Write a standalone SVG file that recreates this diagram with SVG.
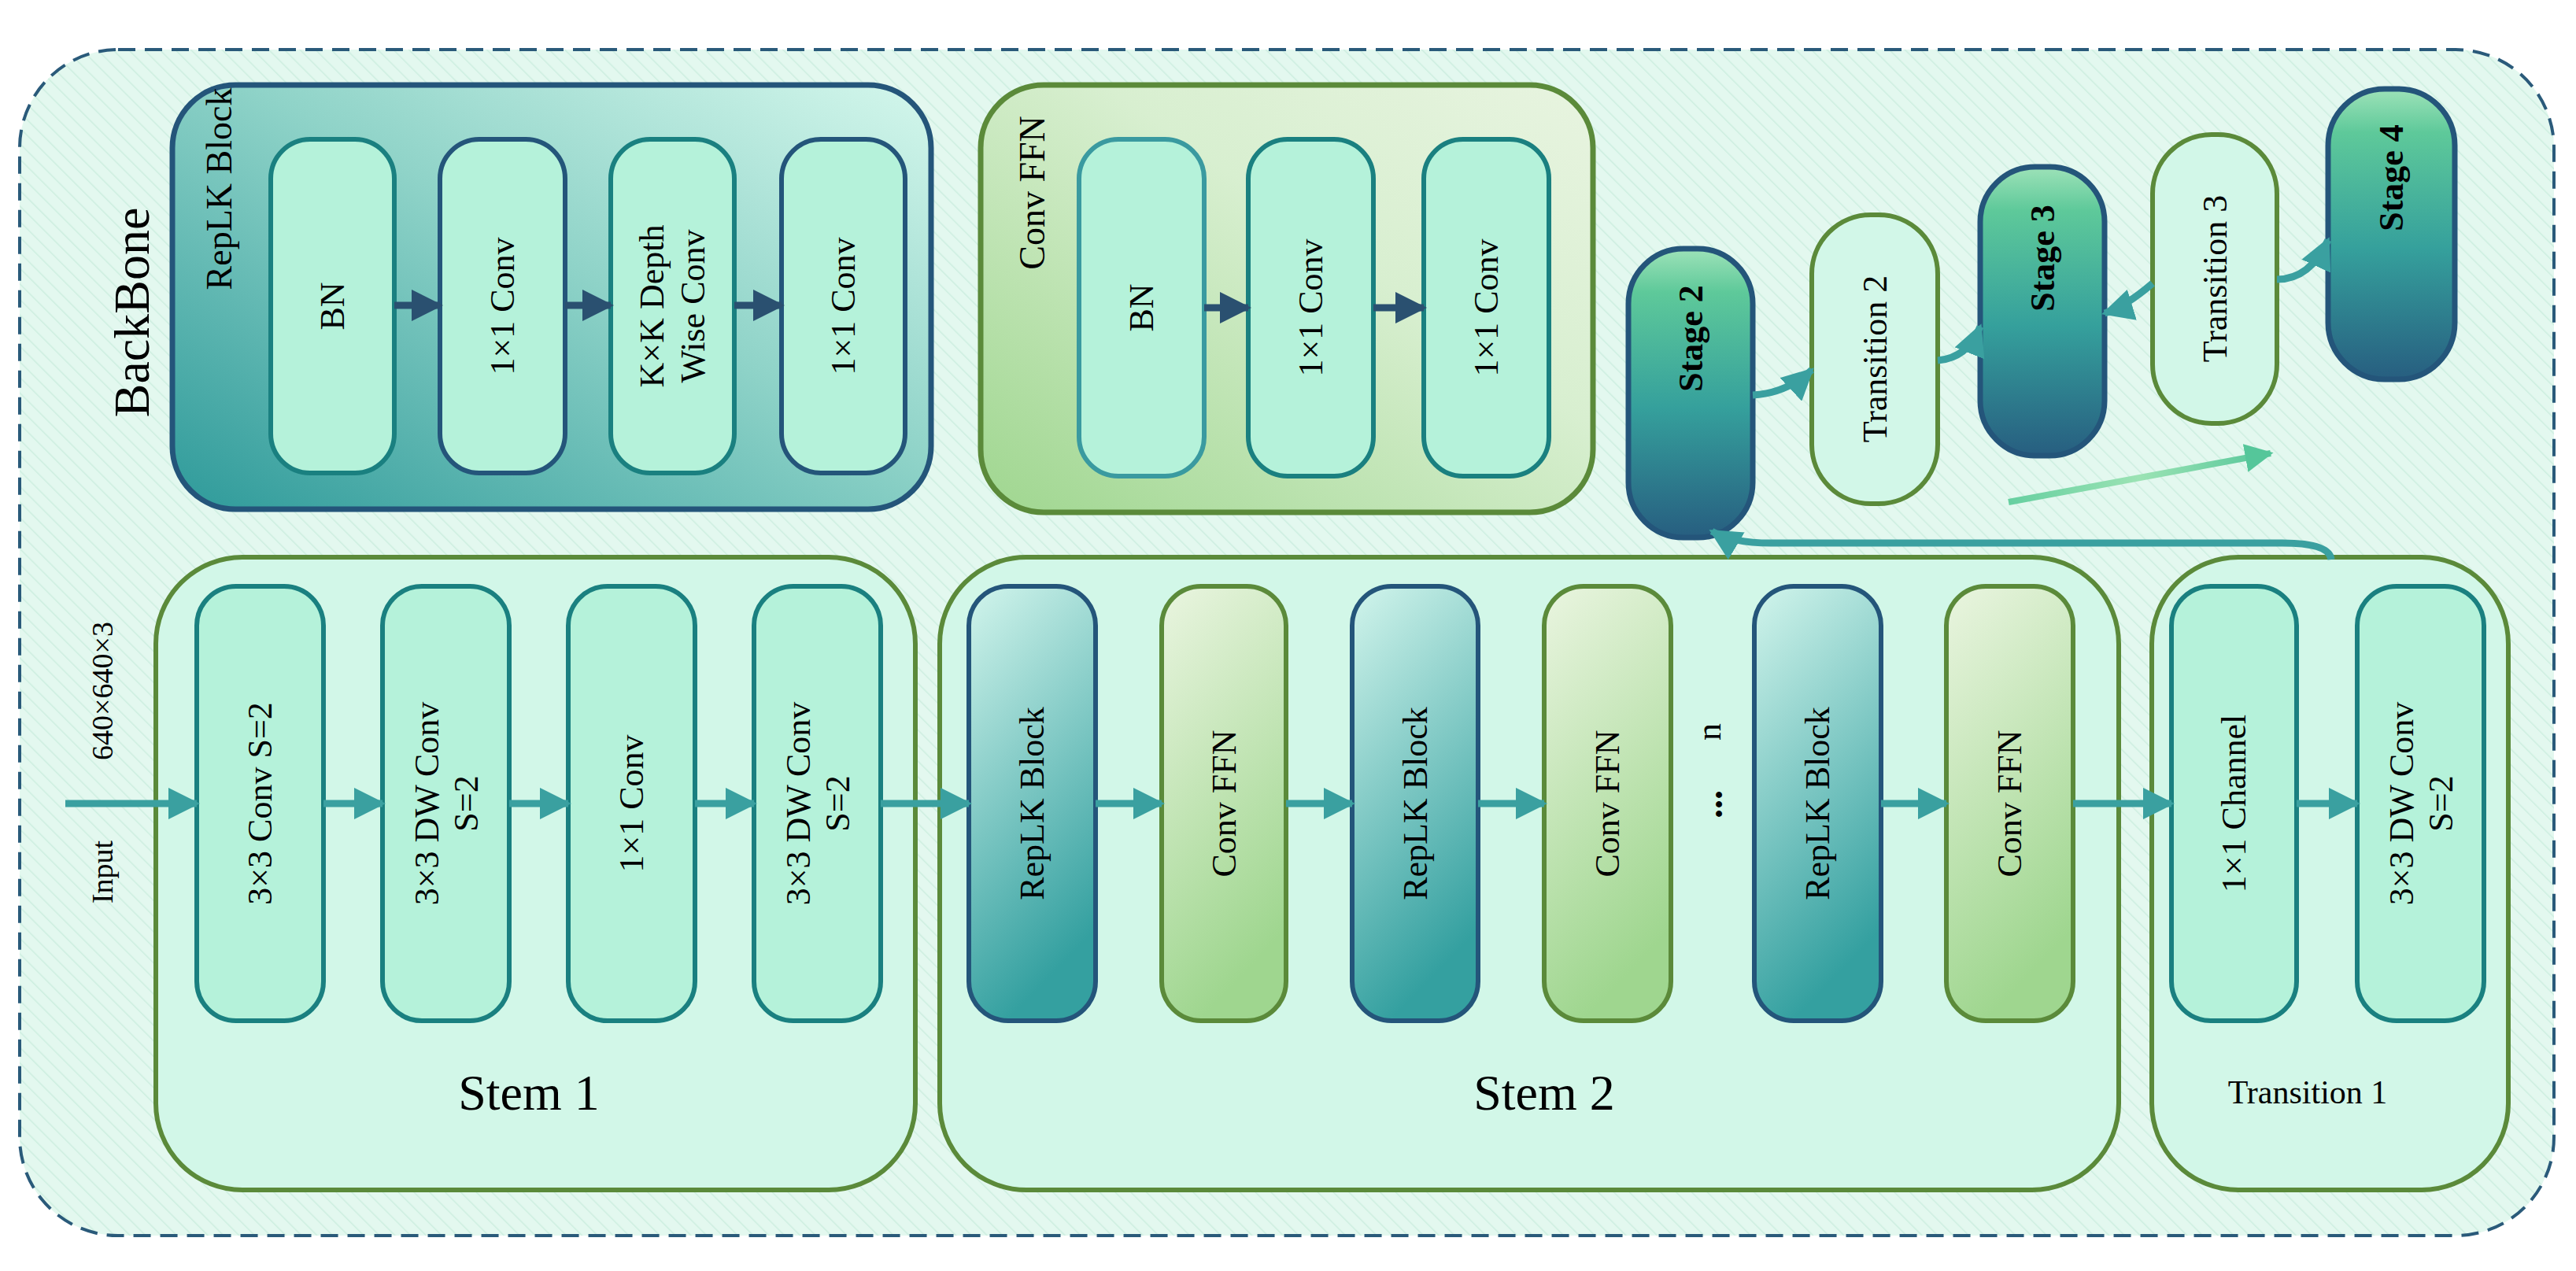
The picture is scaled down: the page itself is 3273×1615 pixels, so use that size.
<svg xmlns="http://www.w3.org/2000/svg" width="3273" height="1615" viewBox="0 0 3273 1615">
<style>
text{font-family:"Liberation Serif","Times New Roman",serif;fill:#000;text-anchor:middle;dominant-baseline:central}
.t{font-size:44px}
.mint{fill:#b5f2da;stroke:#1a8080;stroke-width:6}
.cont{fill:#d2f7e8;stroke:#5b8a3a;stroke-width:6}
.rep{fill:url(#gRep);stroke:#24557a;stroke-width:6}
.ffn{fill:url(#gFfn);stroke:#5b8a3a;stroke-width:6}
.stage{fill:url(#gStage);stroke:#24557a;stroke-width:7}
.trans{fill:#d2f7e8;stroke:#5b8a3a;stroke-width:6}
.ta{stroke:#3aa0a0;stroke-width:9;fill:none;marker-end:url(#mT)}
.na{stroke:#2a5070;stroke-width:9;fill:none;marker-end:url(#mN)}
</style>
<defs>
<pattern id="hatch" width="14" height="14" patternUnits="userSpaceOnUse" patternTransform="rotate(-45)">
<rect width="14" height="14" fill="#e3f8ef"/><line x1="0" y1="0" x2="0" y2="14" stroke="#cdeee0" stroke-width="3"/></pattern>
<linearGradient id="gRepC" x1="0" y1="1" x2="1" y2="0"><stop offset="0" stop-color="#2e9a9a"/><stop offset="0.55" stop-color="#8fd3c8"/><stop offset="1" stop-color="#d4f7ec"/></linearGradient>
<linearGradient id="gFfnC" x1="0" y1="1" x2="1" y2="0"><stop offset="0" stop-color="#9fd68f"/><stop offset="0.6" stop-color="#d8efd0"/><stop offset="1" stop-color="#e8f4e0"/></linearGradient>
<linearGradient id="gRep" x1="0" y1="0" x2="0.3" y2="1"><stop offset="0" stop-color="#d2f5ec"/><stop offset="1" stop-color="#34a0a0"/></linearGradient>
<linearGradient id="gFfn" x1="0" y1="0" x2="0.3" y2="1"><stop offset="0" stop-color="#eaf5e0"/><stop offset="1" stop-color="#9fd68f"/></linearGradient>
<linearGradient id="gStage" x1="0" y1="0" x2="0" y2="1"><stop offset="0" stop-color="#9de2b8"/><stop offset="0.15" stop-color="#5ec99a"/><stop offset="0.55" stop-color="#35a09c"/><stop offset="1" stop-color="#275e80"/></linearGradient>
<linearGradient id="gDiag" x1="0" y1="0" x2="1" y2="0"><stop offset="0" stop-color="#66cfa0"/><stop offset="0.5" stop-color="#9be3b4"/><stop offset="1" stop-color="#55c69a"/></linearGradient>
<marker id="mT" viewBox="0 0 10 10" refX="9" refY="5" markerWidth="4.5" markerHeight="4.5" orient="auto" markerUnits="strokeWidth"><path d="M0,0 L10,5 L0,10 z" fill="#3aa0a0"/></marker>
<marker id="mN" viewBox="0 0 10 10" refX="9" refY="5" markerWidth="4.5" markerHeight="4.5" orient="auto" markerUnits="strokeWidth"><path d="M0,0 L10,5 L0,10 z" fill="#2a5070"/></marker>
<marker id="mG" viewBox="0 0 10 10" refX="9" refY="5" markerWidth="4.5" markerHeight="4.5" orient="auto" markerUnits="strokeWidth"><path d="M0,0 L10,5 L0,10 z" fill="#55c69a"/></marker>
</defs>
<rect x="25" y="63" width="3220" height="1507" rx="125" fill="url(#hatch)" stroke="#2a5a7a" stroke-width="4" stroke-dasharray="22 12"/>
<text x="167" y="397" font-size="64" transform="rotate(-90 167 397)">BackBone</text>

<g id="replk-block">
<rect x="219" y="108" width="964" height="539" rx="80" fill="url(#gRepC)" stroke="#24557a" stroke-width="7"/>
<text x="278" y="240" font-size="46" transform="rotate(-90 278 240)">RepLK Block</text>
<rect class="mint" x="344" y="177" width="157" height="424" rx="50" style="stroke:#1a8080"/>
<text class="t" x="422" y="389" transform="rotate(-90 422 389)">BN</text>
<rect class="mint" x="559" y="177" width="159" height="424" rx="50" style="stroke:#24557a"/>
<text class="t" x="638" y="389" transform="rotate(-90 638 389)">1×1 Conv</text>
<rect class="mint" x="776" y="177" width="157" height="424" rx="50"/>
<text class="t" x="854" y="389" transform="rotate(-90 854 389)"><tspan x="854" dy="-26">K×K Depth</tspan><tspan x="854" dy="52">Wise Conv</tspan></text>
<rect class="mint" x="993" y="177" width="157" height="424" rx="50" style="stroke:#24557a"/>
<text class="t" x="1071" y="389" transform="rotate(-90 1071 389)">1×1 Conv</text>
</g>

<g id="conv-ffn-block">
<rect x="1246" y="108" width="778" height="543" rx="80" fill="url(#gFfnC)" stroke="#5b8a3a" stroke-width="7"/>
<text x="1311" y="245" font-size="46" transform="rotate(-90 1311 245)">Conv FFN</text>
<rect class="mint" x="1371" y="177" width="159" height="428" rx="50" style="stroke:#3a9aa0"/>
<text class="t" x="1450" y="391" transform="rotate(-90 1450 391)">BN</text>
<rect class="mint" x="1586" y="177" width="159" height="428" rx="50"/>
<text class="t" x="1665" y="391" transform="rotate(-90 1665 391)">1×1 Conv</text>
<rect class="mint" x="1809" y="177" width="159" height="428" rx="50"/>
<text class="t" x="1888" y="391" transform="rotate(-90 1888 391)">1×1 Conv</text>
</g>

<g id="stage2"><rect class="stage" x="2069" y="316" width="158" height="367" rx="70"/><text class="t" font-weight="bold" x="2148" y="430" transform="rotate(-90 2148 430)">Stage 2</text></g>
<g id="transition2"><rect class="trans" x="2302" y="273" width="160" height="367" rx="75"/><text class="t" x="2382" y="456" transform="rotate(-90 2382 456)">Transition 2</text></g>
<g id="stage3"><rect class="stage" x="2516" y="212" width="158" height="367" rx="70"/><text class="t" font-weight="bold" x="2595" y="328" transform="rotate(-90 2595 328)">Stage 3</text></g>
<g id="transition3"><rect class="trans" x="2735" y="171" width="158" height="367" rx="75"/><text class="t" x="2814" y="354" transform="rotate(-90 2814 354)">Transition 3</text></g>
<g id="stage4"><rect class="stage" x="2958" y="113" width="161" height="369" rx="72"/><text class="t" font-weight="bold" x="3038" y="226" transform="rotate(-90 3038 226)">Stage 4</text></g>

<g id="stem1">
<rect class="cont" x="198" y="708" width="965" height="804" rx="110"/>
<rect class="mint" x="250" y="745" width="161" height="552" rx="50"/><text class="t" x="330" y="1021" transform="rotate(-90 330 1021)">3×3 Conv S=2</text>
<rect class="mint" x="486" y="745" width="161" height="552" rx="50"/><text class="t" x="566" y="1021" transform="rotate(-90 566 1021)"><tspan x="566" dy="-24">3×3 DW Conv</tspan><tspan x="566" dy="50">S=2</tspan></text>
<rect class="mint" x="722" y="745" width="161" height="552" rx="50"/><text class="t" x="802" y="1021" transform="rotate(-90 802 1021)">1×1 Conv</text>
<rect class="mint" x="958" y="745" width="161" height="552" rx="50"/><text class="t" x="1038" y="1021" transform="rotate(-90 1038 1021)"><tspan x="1038" dy="-24">3×3 DW Conv</tspan><tspan x="1038" dy="50">S=2</tspan></text>
<text x="672" y="1388" font-size="64">Stem 1</text>
</g>

<g id="stem2">
<rect class="cont" x="1194" y="708" width="1498" height="804" rx="110"/>
<rect class="rep" x="1231" y="745" width="161" height="552" rx="50"/><text class="t" x="1311" y="1021" transform="rotate(-90 1311 1021)">RepLK Block</text>
<rect class="ffn" x="1476" y="745" width="158" height="552" rx="50"/><text class="t" x="1555" y="1021" transform="rotate(-90 1555 1021)">Conv FFN</text>
<rect class="rep" x="1718" y="745" width="160" height="552" rx="50"/><text class="t" x="1798" y="1021" transform="rotate(-90 1798 1021)">RepLK Block</text>
<rect class="ffn" x="1962" y="745" width="161" height="552" rx="50"/><text class="t" x="2042" y="1021" transform="rotate(-90 2042 1021)">Conv FFN</text>
<text x="2171" y="1022" font-size="48" font-weight="bold" transform="rotate(-90 2171 1022)">...</text>
<text x="2171" y="930" font-size="44" transform="rotate(-90 2171 930)">n</text>
<rect class="rep" x="2229" y="745" width="161" height="552" rx="50"/><text class="t" x="2309" y="1021" transform="rotate(-90 2309 1021)">RepLK Block</text>
<rect class="ffn" x="2473" y="745" width="161" height="552" rx="50"/><text class="t" x="2553" y="1021" transform="rotate(-90 2553 1021)">Conv FFN</text>
<text x="1962" y="1388" font-size="64">Stem 2</text>
</g>

<g id="transition1">
<rect class="cont" x="2734" y="708" width="453" height="804" rx="110"/>
<rect class="mint" x="2759" y="745" width="159" height="552" rx="50"/><text class="t" x="2838" y="1021" transform="rotate(-90 2838 1021)">1×1 Channel</text>
<rect class="mint" x="2995" y="745" width="161" height="552" rx="50"/><text class="t" x="3075" y="1021" transform="rotate(-90 3075 1021)"><tspan x="3075" dy="-24">3×3 DW Conv</tspan><tspan x="3075" dy="50">S=2</tspan></text>
<text x="2932" y="1388" font-size="42">Transition 1</text>
</g>

<g id="input-label">
<text x="130" y="1108" font-size="38" transform="rotate(-90 130 1108)">Input</text>
<text x="130" y="878" font-size="38" transform="rotate(-90 130 878)">640×640×3</text>
</g>

<g id="connectors">
<line class="na" x1="501" y1="388" x2="559" y2="388"/>
<line class="na" x1="718" y1="388" x2="776" y2="388"/>
<line class="na" x1="933" y1="388" x2="993" y2="388"/>
<line class="na" x1="1530" y1="391" x2="1586" y2="391"/>
<line class="na" x1="1745" y1="391" x2="1809" y2="391"/>
<line class="ta" x1="83" y1="1021" x2="250" y2="1021"/>
<line class="ta" x1="411" y1="1021" x2="486" y2="1021"/>
<line class="ta" x1="647" y1="1021" x2="722" y2="1021"/>
<line class="ta" x1="883" y1="1021" x2="958" y2="1021"/>
<line class="ta" x1="1119" y1="1021" x2="1231" y2="1021"/>
<line class="ta" x1="1392" y1="1021" x2="1476" y2="1021"/>
<line class="ta" x1="1634" y1="1021" x2="1718" y2="1021"/>
<line class="ta" x1="1878" y1="1021" x2="1962" y2="1021"/>
<line class="ta" x1="2390" y1="1021" x2="2473" y2="1021"/>
<line class="ta" x1="2634" y1="1021" x2="2759" y2="1021"/>
<line class="ta" x1="2918" y1="1021" x2="2995" y2="1021"/>
<path class="ta" d="M2227,502 Q2270,500 2302,470"/>
<path class="ta" d="M2462,458 Q2500,455 2516,415"/>
<path class="ta" d="M2735,360 Q2700,390 2674,398"/>
<path class="ta" d="M2893,355 Q2935,355 2958,305"/>
<path class="ta" d="M2962,711 Q2960,690 2900,690 L2250,690 Q2200,690 2175,675"/>
<line x1="2552" y1="638" x2="2885" y2="576" stroke="url(#gDiag)" stroke-width="8" marker-end="url(#mG)"/>
</g>
</svg>
